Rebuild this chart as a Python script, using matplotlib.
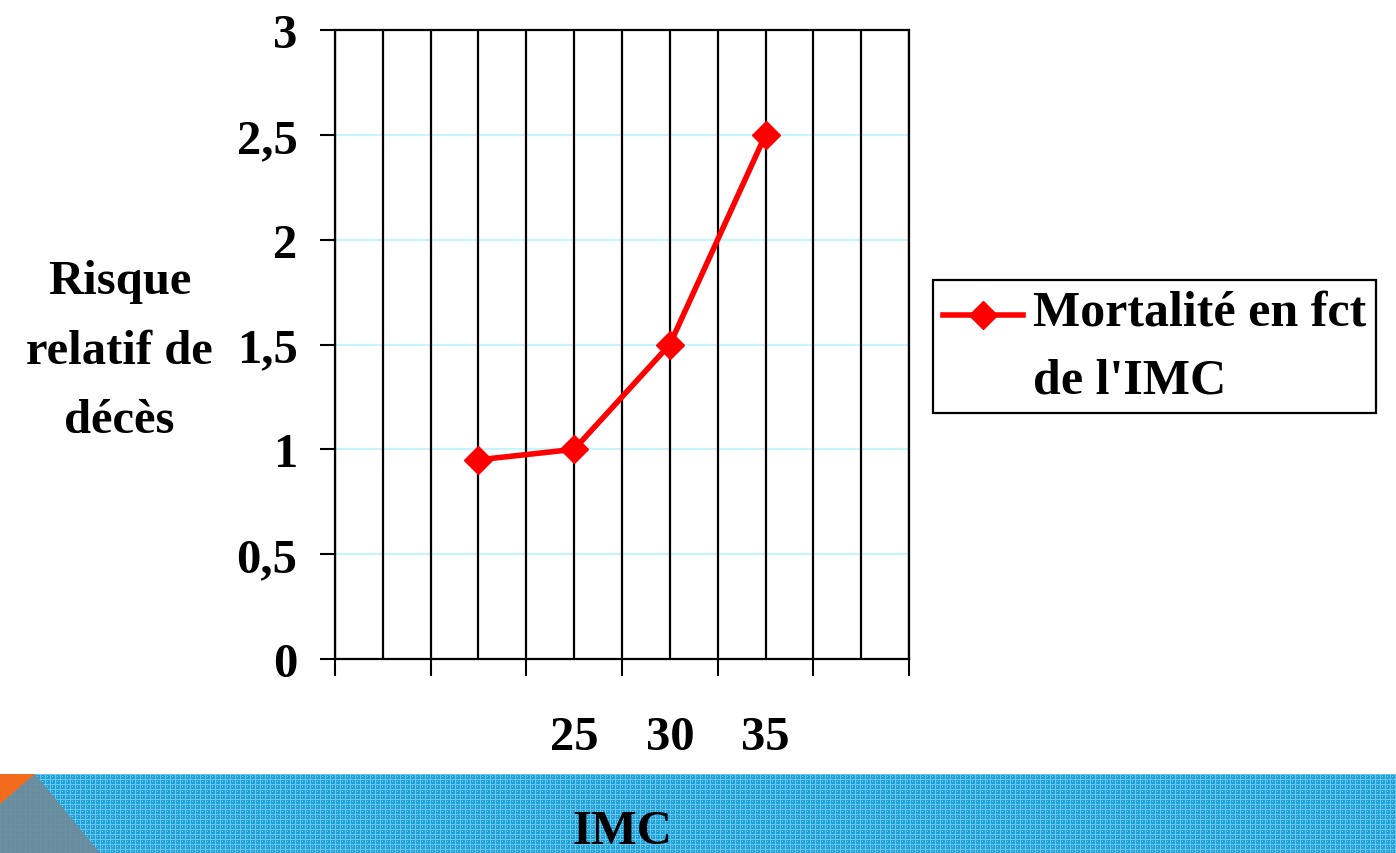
import matplotlib.pyplot as plt
import numpy as np
from matplotlib.patches import Polygon

plt.rcParams['font.family'] = ['Liberation Serif', 'DejaVu Serif']
plt.rcParams['font.weight'] = 'bold'
plt.rcParams['axes.labelweight'] = 'bold'

# Relative risk of death by BMI class
imc = [20, 25, 30, 35]
imc_labels = ['', '25', '30', '35']
risque = [0.95, 1.0, 1.5, 2.5]
y_ticks = [0, 0.5, 1, 1.5, 2, 2.5, 3]
y_tick_labels = ['0', '0,5', '1', '1,5', '2', '2,5', '3']
serie = "Mortalité en fct\nde l'IMC"

FS = 35

fig = plt.figure(figsize=(13.96, 8.54), dpi=100)

# --- blue textured band at the bottom of the slide ---
band_h = 79
band = fig.add_axes([0, 0, 1, band_h / 854])
tex = np.ones((band_h, 1396, 3)) * np.array([0.12, 0.63, 0.85])
tex[::5, :, :] = [0.42, 0.78, 0.93]
tex[:, ::5, :] = [0.42, 0.78, 0.93]
tex[2::5, 2::5, :] = [0.55, 0.84, 0.95]
band.imshow(tex, extent=(0, 1396, band_h, 0), aspect='auto', interpolation='nearest')
band.add_patch(Polygon([(0, 30), (35, 0), (100, band_h), (0, band_h)],
                       closed=True, facecolor='#6f8a99', edgecolor='none', alpha=0.9))
band.add_patch(Polygon([(0, 0), (35, 0), (0, 30)],
                       closed=True, facecolor='#f26b1d', edgecolor='none'))
band.set_xlim(0, 1396)
band.set_ylim(band_h, 0)
band.axis('off')

# --- main chart ---
ax = fig.add_axes([335 / 1396, 1 - 660 / 854, 574 / 1396, 629 / 854])
ax.set_axisbelow(True)

ax.set_xlim(12.5, 42.5)
ax.set_ylim(0, 3)

# vertical black grid every 2.5 units
ax.vlines(np.arange(12.5, 42.51, 2.5), 0, 3, colors='black', linewidth=1.6, zorder=1)

ax.plot(imc, risque, color='#ff0000', linewidth=4, marker='D', markersize=14,
        markeredgecolor='#ff0000', zorder=3, label=serie, clip_on=False)

ax.set_yticks(y_ticks)
ax.set_yticklabels(y_tick_labels)
ax.yaxis.grid(True, color='#c4f6fb', linewidth=1.5)
ax.tick_params(axis='y', length=11, width=1.5, pad=16, labelsize=FS)

ax.set_xticks(np.arange(12.5, 42.51, 5))
ax.set_xticklabels([])
ax.set_xticks(imc, minor=True)
ax.set_xticklabels(imc_labels, minor=True)
ax.tick_params(axis='x', which='major', length=12, width=1.5)
ax.tick_params(axis='x', which='minor', length=0, pad=40, labelsize=FS)

for s in ax.spines.values():
    s.set_linewidth(1.6)
    s.set_color('black')

ax.set_ylabel('Risque\nrelatif de\ndécès', rotation=0, fontsize=FS, fontweight='bold',
              ha='center', va='center', linespacing=1.75)
ax.yaxis.set_label_coords(-0.375, 0.49)

fig.text(622 / 1396, 1 - 832 / 854, 'IMC', ha='center', va='center', fontsize=FS)

leg = ax.legend(loc='upper left', bbox_to_anchor=(933 / 1396, 1 - 281 / 854),
                bbox_transform=fig.transFigure, borderaxespad=0, fontsize=36,
                frameon=True, fancybox=False, framealpha=1, edgecolor='black',
                handlelength=1.6, handletextpad=0.2, borderpad=0.2)
leg.get_frame().set_linewidth(1.6)
for t in leg.get_texts():
    t.set_linespacing(1.6)
# keep the legend key level with the first line of the label
for h in leg.legend_handles:
    h.set_ydata(np.asarray(h.get_ydata()) + 23)

fig.savefig('out.png', dpi=100)
